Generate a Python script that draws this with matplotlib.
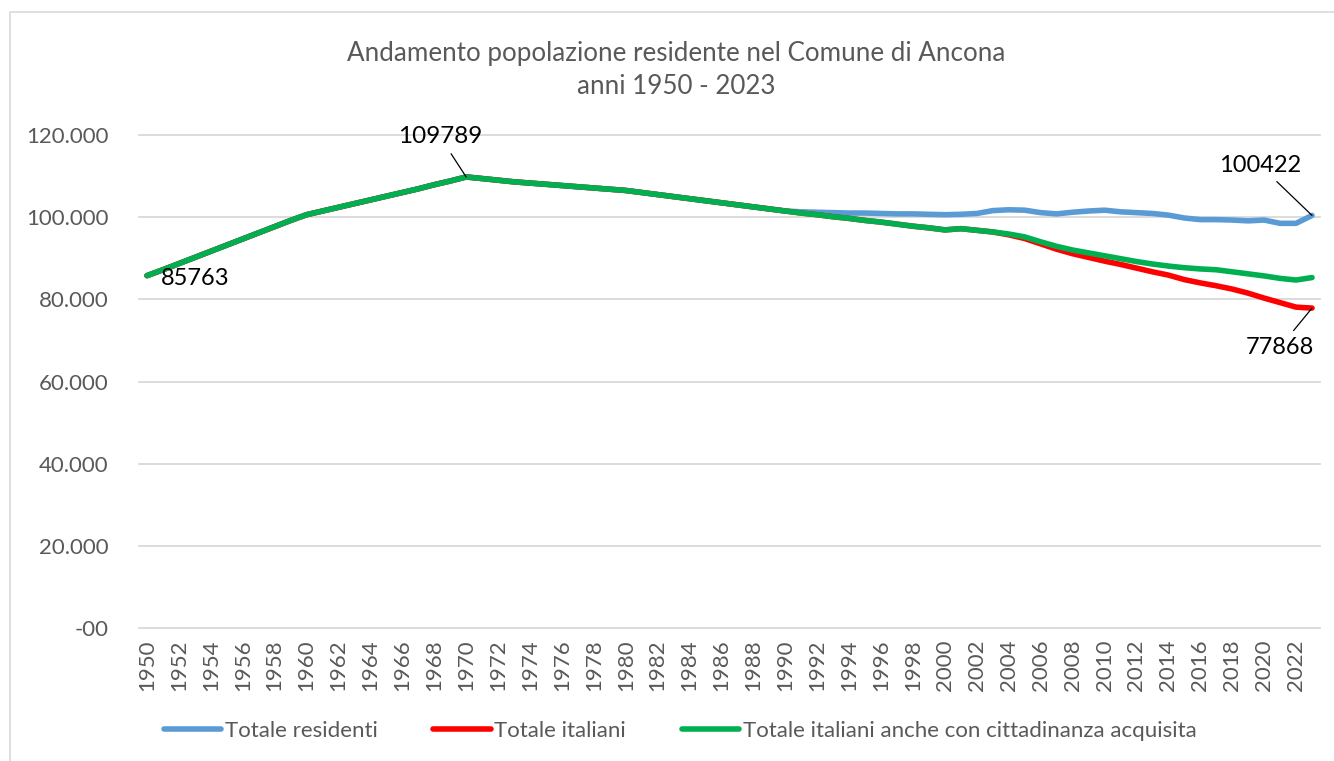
import matplotlib
matplotlib.use('Agg')
import matplotlib.pyplot as plt
from matplotlib.patches import Rectangle
from matplotlib.ticker import FuncFormatter

anni = list(range(1950, 2024))

# tratto comune 1950-1990
comune = [85763, 87200, 88700, 90200, 91700, 93200, 94700, 96200, 97700, 99200,
          100600, 101500, 102400, 103300, 104200, 105100, 106000, 106900, 107900, 108800,
          109789, 109400, 109000, 108600, 108300, 108000, 107700, 107400, 107100, 106800,
          106500, 106000, 105500, 105000, 104500, 104000, 103500, 103000, 102500, 102000,
          101500]

totale_residenti = comune + [101300, 101200, 101100, 101000, 101000, 100900, 100800, 100800, 100700,
                             100600, 100700, 100900, 101600, 101800, 101700, 101100, 100800, 101200, 101500,
                             101700, 101300, 101100, 100900, 100500, 99800, 99400, 99400, 99300, 99100,
                             99300, 98500, 98500, 100422]

totale_italiani = comune + [101000, 100600, 100100, 99700, 99200, 98800, 98300, 97800, 97400,
                            96900, 97200, 96800, 96400, 95700, 94800, 93500, 92200, 91100, 90200,
                            89300, 88500, 87600, 86700, 85900, 84800, 84000, 83300, 82500, 81500,
                            80300, 79200, 78100, 77868]

italiani_cittadinanza = comune + [101000, 100600, 100100, 99700, 99200, 98800, 98300, 97800, 97400,
                                  96900, 97200, 96800, 96400, 95900, 95200, 94000, 92900, 92000, 91300,
                                  90600, 89900, 89200, 88600, 88100, 87700, 87400, 87200, 86700, 86200,
                                  85700, 85100, 84700, 85300]

plt.rcParams['font.family'] = ['Lato', 'DejaVu Sans']
grigio = '#595959'

W, H = 1334, 761
fig = plt.figure(figsize=(W / 100, H / 100), dpi=100)
ax = fig.add_axes([139 / W, 1 - 628 / H, (1320 - 139) / W, (628 - 135) / H])

l1, = ax.plot(anni, totale_residenti, color='#5B9BD5', lw=4, solid_capstyle='round')
l2, = ax.plot(anni, totale_italiani, color='#FF0000', lw=4, solid_capstyle='round')
l3, = ax.plot(anni, italiani_cittadinanza, color='#00B050', lw=4, solid_capstyle='round')

ax.set_xlim(1949.5, 2023.5)
ax.set_ylim(0, 120000)
ax.set_yticks(range(0, 120001, 20000))
ax.yaxis.set_major_formatter(FuncFormatter(lambda v, p: '-00' if v == 0 else f'{v:,.0f}'.replace(',', '.')))
ax.set_xticks(anni[::2])
ax.set_xticklabels([str(a) for a in anni[::2]], rotation=90)
ax.tick_params(axis='both', length=0, colors=grigio, labelsize=16)
ax.tick_params(axis='x', pad=8)
ax.tick_params(axis='y', pad=22)
ax.grid(axis='y', color='#D9D9D9', lw=1.3)
for gl in ax.get_ygridlines():
    gl.set_clip_on(False)
for s in ax.spines.values():
    s.set_visible(False)

arr = dict(arrowstyle='-', color='black', lw=0.9, shrinkA=3, shrinkB=0)
ax.annotate('85763', xy=(1950, 85763), xytext=(48, -3), textcoords='offset pixels',
            ha='center', va='center', fontsize=17)
ax.annotate('109789', xy=(1970, 109789), xytext=(-26, 40), textcoords='offset pixels',
            ha='center', va='center', fontsize=17.5, arrowprops=arr)
ax.annotate('100422', xy=(2023, 100422), xytext=(-52, 50), textcoords='offset pixels',
            ha='center', va='center', fontsize=17, arrowprops=arr)
ax.annotate('77868', xy=(2023, 77868), xytext=(-32, -39), textcoords='offset pixels',
            ha='center', va='center', fontsize=17, arrowprops=arr)

fig.text(676 / W, 1 - 70 / H, 'Andamento popolazione residente nel Comune di Ancona\nanni 1950 - 2023',
         ha='center', va='center', fontsize=18.7, color=grigio, linespacing=1.42)

leg = fig.legend([l1, l2, l3],
                 ['Totale residenti', 'Totale italiani', 'Totale italiani anche con cittadinanza acquisita'],
                 loc='center', bbox_to_anchor=(680 / W, 1 - 731 / H), ncol=3, frameon=False,
                 fontsize=16, handlelength=2.6, handletextpad=0.15, columnspacing=2.5)
for t in leg.get_texts():
    t.set_color(grigio)

fig.patches.append(Rectangle((10 / W, -0.1), 1.2, 1.1 - 12 / H, transform=fig.transFigure,
                             fill=False, edgecolor='#D9D9D9', lw=1.2))

fig.savefig('out.png', dpi=100)
